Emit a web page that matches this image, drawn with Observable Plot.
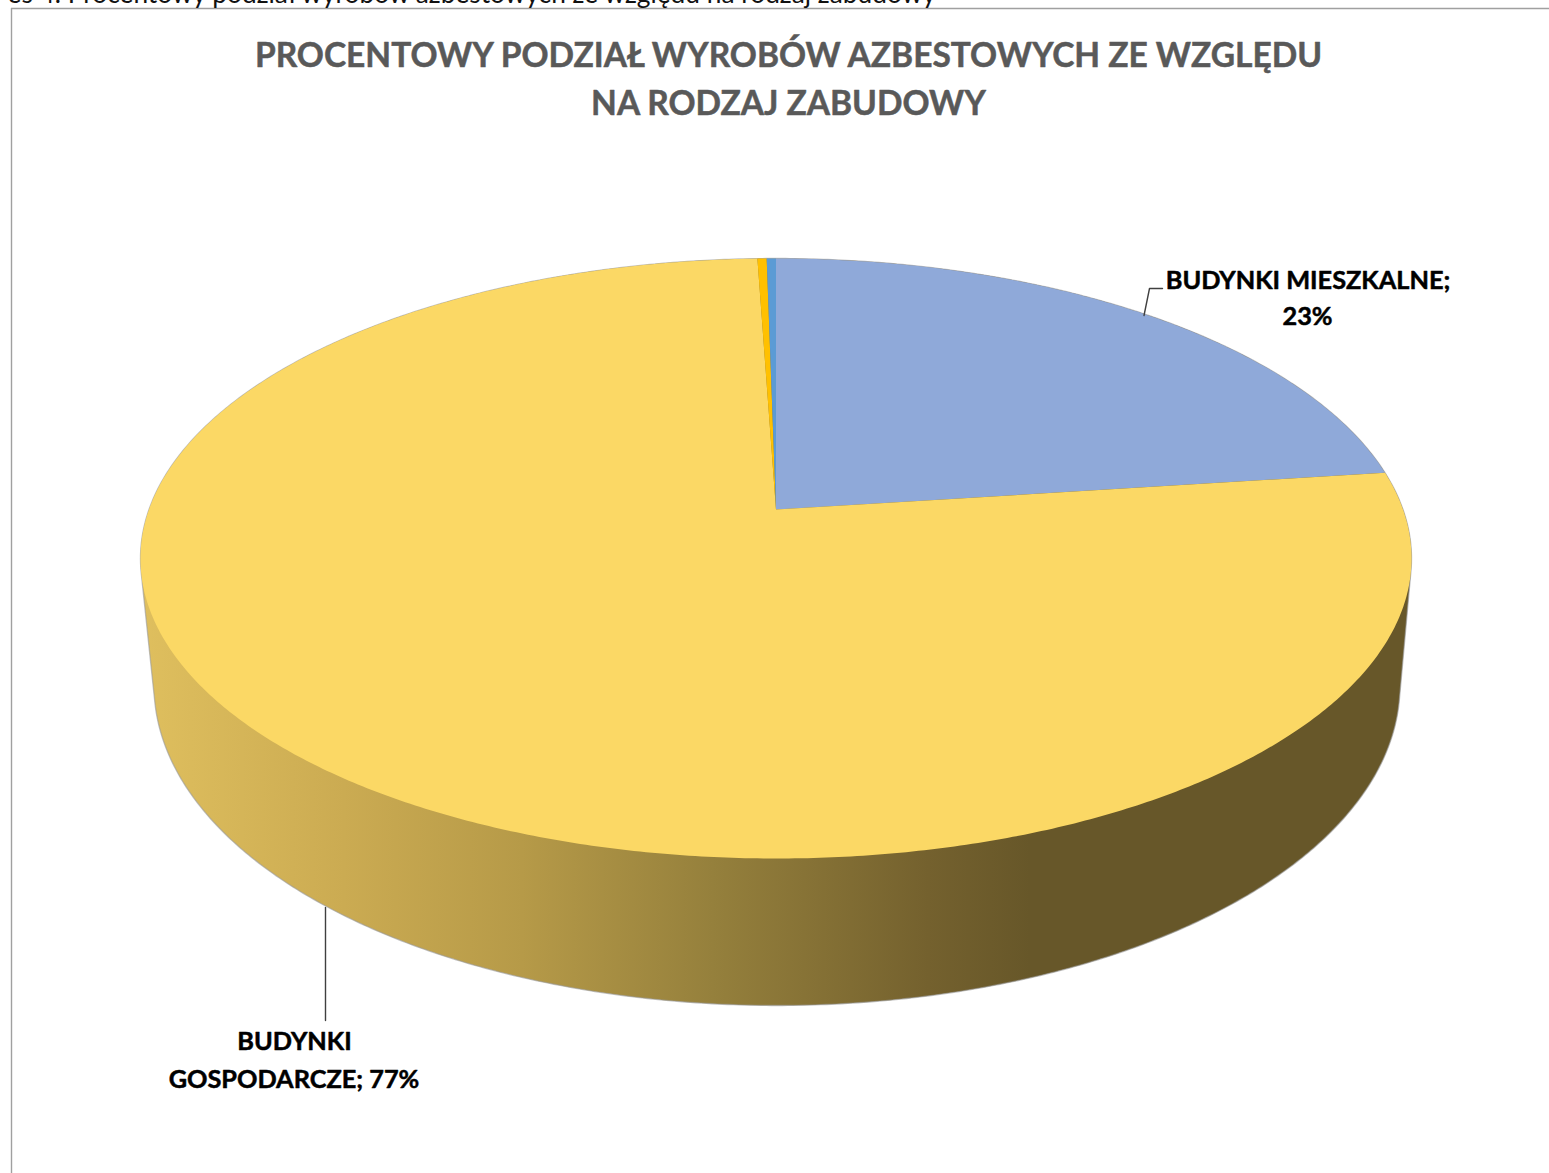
<!DOCTYPE html>
<html><head><meta charset="utf-8">
<script src="https://cdn.jsdelivr.net/npm/d3@7"></script>
<script src="https://cdn.jsdelivr.net/npm/@observablehq/plot@0.6"></script>
<style>html,body{margin:0;padding:0;background:#fff;overflow:hidden}svg{display:block}</style>
</head><body><div id="chart"></div>
<script>
const categories = ["BUDYNKI MIESZKALNE", "BUDYNKI GOSPODARCZE", "INNE A", "INNE B"];
const shares = [22.95, 76.5, 0.275, 0.275];
const sliceColors = ["#8FA9D9", "#FBD865", "#FFC000", "#5B9BD5"];
const wallOffsets = [0, 0.16, 0.3, 0.45, 0.62, 0.7, 1];
const wallColors = ["#DFBF5E", "#CBAB52", "#B69A48", "#95803C", "#74612E", "#675729", "#675729"];
const captionText = "es 4. Procentowy podział wyrobów azbestowych ze względu na rodzaj zabudowy";
const titleLines = ["PROCENTOWY PODZIAŁ WYROBÓW AZBESTOWYCH ZE WZGLĘDU", "NA RODZAJ ZABUDOWY"];

const W = 1549, H = 1173;
// perspective disc
const cx = 775.5, apexY = 509, A = 627, B = 292, K = -0.1633;
const project = t => {
  const u = Math.sin(t), v = -Math.cos(t), d = 1 + K * v;
  return [cx + A * u / d, apexY + B * v / d];
};
const tau = Math.PI * 2;
const arcs = d3.pie().sort(null).value(d => d)(shares);
const sliceRows = arcs.flatMap((a, i) => {
  const n = Math.max(4, Math.ceil((a.endAngle - a.startAngle) * 120));
  const pts = [[cx, apexY]];
  for (let j = 0; j <= n; j++) pts.push(project(a.startAngle + (a.endAngle - a.startAngle) * j / n));
  return pts.map(p => ({name: categories[i], x: p[0], y: p[1]}));
});
const topPts = d3.range(0, 721).map(i => project(i / 720 * tau));
const botPts = d3.range(0, 721).map(i => {
  const t = i / 720 * tau;
  return [776.5 + 623 * Math.sin(t), 685 - 320 * Math.cos(t)];
});
const hull = d3.polygonHull(topPts.concat(botPts));
hull.push(hull[0]);
const hullRows = hull.map(p => ({x: p[0], y: p[1]}));

const chart = Plot.plot({
  width: W, height: H, margin: 0,
  x: {domain: [0, W], range: [0, W], axis: null},
  y: {domain: [0, H], range: [0, H], axis: null},
  color: {domain: categories, range: sliceColors},
  style: {background: "#fff", overflow: "hidden"},
  marks: [
    () => {
      const ns = "http://www.w3.org/2000/svg";
      const defs = document.createElementNS(ns, "defs");
      const g = document.createElementNS(ns, "linearGradient");
      g.setAttribute("id", "wall");
      g.setAttribute("x1", "0"); g.setAttribute("x2", "1"); g.setAttribute("y1", "0"); g.setAttribute("y2", "0");
      wallOffsets.forEach((o, i) => {
        const s = document.createElementNS(ns, "stop");
        s.setAttribute("offset", o); s.setAttribute("stop-color", wallColors[i]);
        g.appendChild(s);
      });
      defs.appendChild(g);
      return defs;
    },
    Plot.ruleX([11], {y1: 8, y2: H, stroke: "#a0a0a0", strokeWidth: 1.4}),
    Plot.ruleY([8], {x1: 11, x2: W, stroke: "#a0a0a0", strokeWidth: 1.4}),
    Plot.text([captionText], {x: 7, y: 2.5, text: d => d, textAnchor: "start", lineAnchor: "bottom", fontSize: 26.3, fontFamily: "Lato", fill: "#111"}),
    Plot.line(hullRows, {x: "x", y: "y", fill: "url(#wall)", stroke: "#9a9a9a", strokeWidth: 1.3, strokeOpacity: 0.6}),
    Plot.line(sliceRows, {x: "x", y: "y", z: "name", fill: "name", stroke: null}),
    Plot.line([{x: 1143.5, y: 315}, {x: 1149, y: 288}, {x: 1162, y: 288}], {x: "x", y: "y", stroke: "#404040", strokeWidth: 1.4}),
    Plot.line([{x: 325, y: 907}, {x: 325, y: 1020}], {x: "x", y: "y", stroke: "#404040", strokeWidth: 1.4}),
    Plot.text(titleLines, {x: 788, y: (d, i) => [66, 114][i], text: d => d, fontSize: 33.5, fontWeight: 700, fontFamily: "Lato", fill: "#595959", stroke: "#595959", strokeWidth: 0.5, lineAnchor: "bottom"}),
    Plot.text([
      {t: "BUDYNKI MIESZKALNE;", x: 1307.5, y: 288},
      {t: "23%", x: 1307, y: 324},
      {t: "BUDYNKI", x: 294, y: 1049},
      {t: "GOSPODARCZE; 77%", x: 293.5, y: 1087}
    ], {x: "x", y: "y", text: "t", fontSize: 25.3, fontWeight: 700, fontFamily: "Lato", fill: "#000", stroke: "#000", strokeWidth: 0.5, lineAnchor: "bottom"})
  ]
});
document.getElementById("chart").appendChild(chart);
</script></body></html>
